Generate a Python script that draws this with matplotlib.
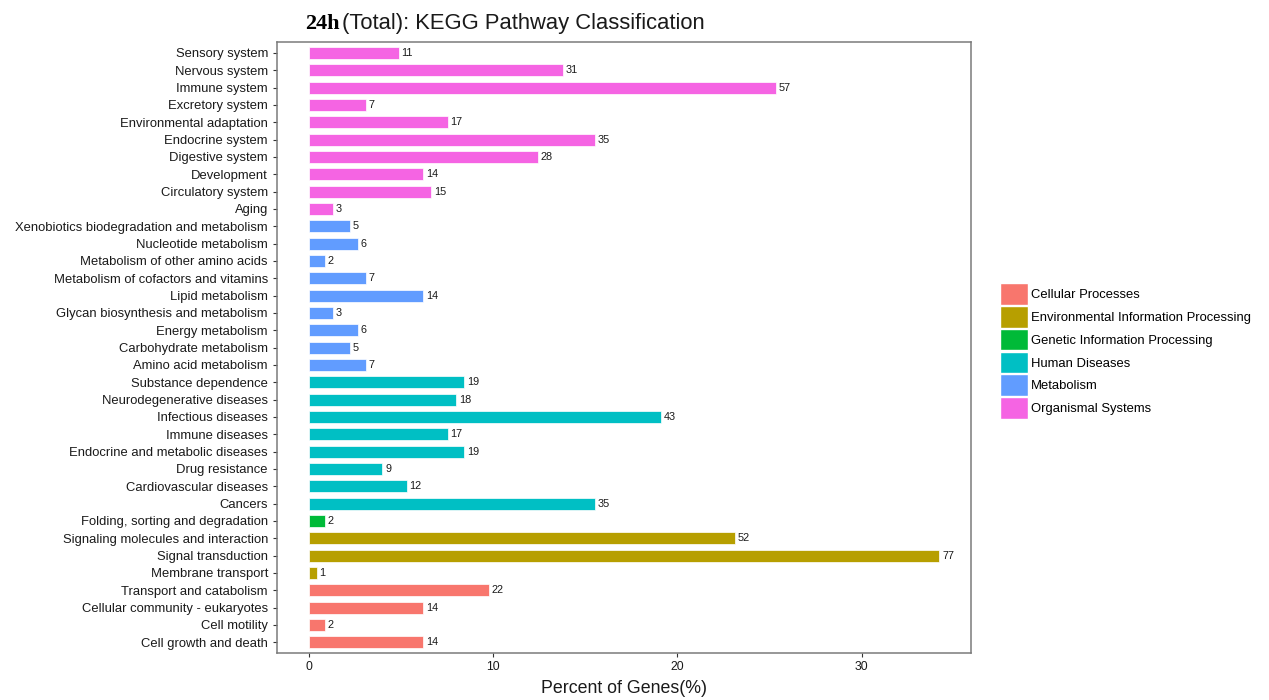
import matplotlib
matplotlib.use("Agg")
import matplotlib.pyplot as plt
from matplotlib.patches import Patch

plt.rcParams["font.family"] = ["Liberation Sans", "DejaVu Sans"]

# Pathway categories (bottom to top) with gene counts and their class
pathways = [
    "Cell growth and death", "Cell motility", "Cellular community - eukaryotes",
    "Transport and catabolism",
    "Membrane transport", "Signal transduction", "Signaling molecules and interaction",
    "Folding, sorting and degradation",
    "Cancers", "Cardiovascular diseases", "Drug resistance",
    "Endocrine and metabolic diseases", "Immune diseases", "Infectious diseases",
    "Neurodegenerative diseases", "Substance dependence",
    "Amino acid metabolism", "Carbohydrate metabolism", "Energy metabolism",
    "Glycan biosynthesis and metabolism", "Lipid metabolism",
    "Metabolism of cofactors and vitamins", "Metabolism of other amino acids",
    "Nucleotide metabolism", "Xenobiotics biodegradation and metabolism",
    "Aging", "Circulatory system", "Development", "Digestive system",
    "Endocrine system", "Environmental adaptation", "Excretory system",
    "Immune system", "Nervous system", "Sensory system",
]
gene_counts = [
    14, 2, 14, 22,
    1, 77, 52,
    2,
    35, 12, 9, 19, 17, 43, 18, 19,
    7, 5, 6, 3, 14, 7, 2, 6, 5,
    3, 15, 14, 28, 35, 17, 7, 57, 31, 11,
]
classes = (
    ["Cellular Processes"] * 4
    + ["Environmental Information Processing"] * 3
    + ["Genetic Information Processing"] * 1
    + ["Human Diseases"] * 8
    + ["Metabolism"] * 9
    + ["Organismal Systems"] * 10
)
class_names = [
    "Cellular Processes", "Environmental Information Processing",
    "Genetic Information Processing", "Human Diseases", "Metabolism",
    "Organismal Systems",
]
class_colors = ["#F8766D", "#B79F00", "#00BA38", "#00BFC4", "#619CFF", "#F564E3"]
total_genes = 225

percents = [c / total_genes * 100 for c in gene_counts]
color_of = dict(zip(class_names, class_colors))
bar_colors = [color_of[c] for c in classes]

fig = plt.figure(figsize=(12.69, 7.0), dpi=100)
ax = fig.add_axes([277 / 1269, 47.3 / 700, 694 / 1269, 610.2 / 700])

ypos = list(range(len(pathways)))
ax.barh(ypos, percents, height=0.7, color=bar_colors, edgecolor="white",
        linewidth=0.5)
for y, p, n in zip(ypos, percents, gene_counts):
    ax.text(p + 0.15, y, str(n), va="center", ha="left", fontsize=7.8,
            color="#1a1a1a")

ax.set_yticks(ypos)
ax.set_yticklabels(pathways, fontsize=9.4, color="#1a1a1a")
ax.set_xticks([0, 10, 20, 30])
ax.tick_params(axis="x", labelsize=8.8, labelcolor="#1a1a1a", length=3,
               color="#333333", width=0.8, pad=3)
ax.tick_params(axis="y", length=3, color="#333333", width=0.8, pad=3.5)
pmax = max(percents)
ax.set_xlim(-0.05 * pmax, 1.05 * pmax)
ax.set_ylim(-0.6, len(pathways) - 0.4)
for s in ax.spines.values():
    s.set_color("#7a7a7a")
    s.set_linewidth(1.1)
ax.set_xlabel("Percent of Genes(%)", fontsize=12.8, color="#1a1a1a", labelpad=5)

# Title: bold serif prefix followed by sans-serif description
t1 = fig.text(305 / 1269, 1 - 29 / 700, "24h", fontsize=16, fontweight="bold",
              family=["Liberation Serif", "DejaVu Serif"], va="baseline",
              ha="left")
fig.canvas.draw()
bb = t1.get_window_extent()
fig.text((bb.x1 + 3) / fig.bbox.width, 1 - 29 / 700,
         "(Total): KEGG Pathway Classification", fontsize=15.8,
         va="baseline", ha="left", color="#1a1a1a")

handles = [Patch(facecolor=c, edgecolor="white", linewidth=1.0, label=n)
           for n, c in zip(class_names, class_colors)]
fig.legend(handles=handles, loc="center left",
           bbox_to_anchor=(1000 / 1269, 1 - 351 / 700),
           frameon=False, fontsize=9.4, handlelength=2.15, handleheight=2.2,
           handletextpad=0.2, labelspacing=0.08, borderaxespad=0,
           borderpad=0)

fig.savefig("out.png", dpi=100, facecolor="white")
